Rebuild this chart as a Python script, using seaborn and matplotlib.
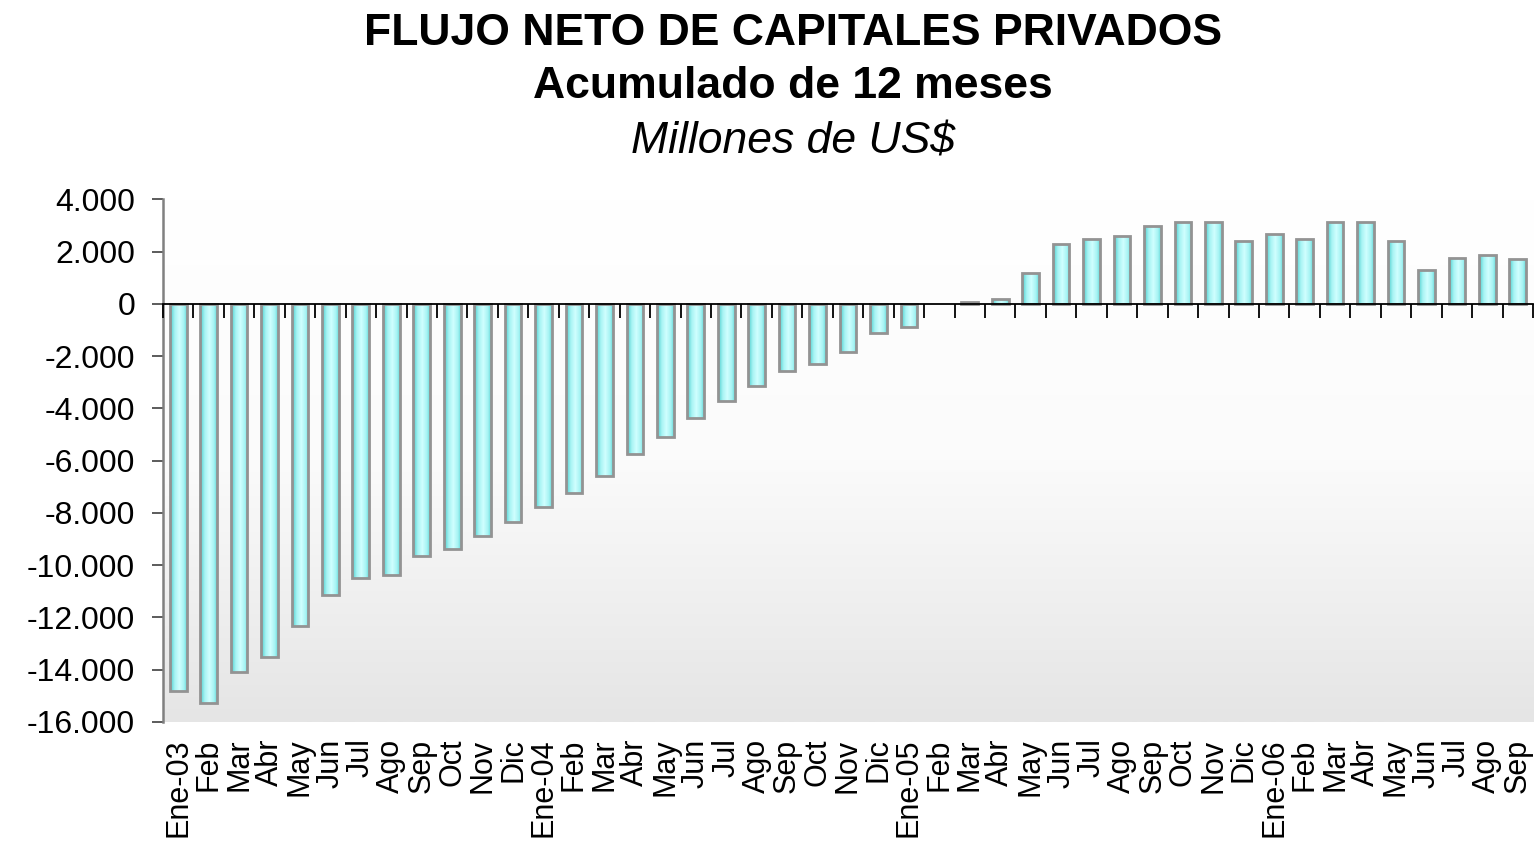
import numpy as np
import pandas as pd
import matplotlib
matplotlib.use("Agg")
import matplotlib.pyplot as plt
import seaborn as sns
from matplotlib.colors import LinearSegmentedColormap
from matplotlib.ticker import FuncFormatter

# data (millones de US$, acumulado 12 meses)
tick_labels = ["Ene-03", "Feb", "Mar", "Abr", "May", "Jun", "Jul", "Ago", "Sep", "Oct", "Nov", "Dic",
               "Ene-04", "Feb", "Mar", "Abr", "May", "Jun", "Jul", "Ago", "Sep", "Oct", "Nov", "Dic",
               "Ene-05", "Feb", "Mar", "Abr", "May", "Jun", "Jul", "Ago", "Sep", "Oct", "Nov", "Dic",
               "Ene-06", "Feb", "Mar", "Abr", "May", "Jun", "Jul", "Ago", "Sep"]
flujo = [-14830, -15300, -14110, -13540, -12350, -11150, -10490, -10390, -9650, -9380, -8890, -8340,
         -7780, -7230, -6580, -5750, -5090, -4350, -3700, -3140, -2570, -2290, -1840, -1100,
         -895, 0, 60, 180, 1200, 2310, 2500, 2600, 2980, 3150, 3150, 2400,
         2690, 2500, 3150, 3150, 2400, 1280, 1750, 1870, 1720]
y_ticks = [4000, 2000, 0, -2000, -4000, -6000, -8000, -10000, -12000, -14000, -16000]

# unique keys so the repeated month names stay separate categories
keys = [f"{i:02d}" for i in range(len(tick_labels))]
df = pd.DataFrame({"mes": keys, "valor": flujo})

sns.set_style("white")
plt.rcParams['font.family'] = ['Liberation Sans', 'DejaVu Sans']
plt.rcParams['text.color'] = 'black'
plt.rcParams['xtick.color'] = 'black'
plt.rcParams['ytick.color'] = 'black'

fig = plt.figure(figsize=(15.39, 8.47), dpi=100)
ax = fig.add_axes([0.1059, 0.1479, 0.8902, 0.6166])

sns.barplot(data=df, x="mes", y="valor", order=keys, color="#9eeeee", width=0.55,
            edgecolor="#939393", linewidth=2.0, errorbar=None, ax=ax, zorder=2)

ymin, ymax = -16000, 4000
xmin, xmax = -0.5, len(keys) - 0.5

# background gradient of the plot area: white at top, light grey at bottom
bg = np.linspace(0, 1, 256).reshape(-1, 1)
bg_cmap = LinearSegmentedColormap.from_list("bg", ["#ffffff", "#fbfbfb", "#e5e5e5"])
ax.imshow(bg, cmap=bg_cmap, extent=[xmin, xmax, ymin, ymax], aspect="auto", zorder=0, origin="upper")

# horizontal cyan gradient inside each bar
t = np.linspace(0, 1, 64)
bar_grad = np.abs(t - 0.55).reshape(1, -1)
bar_cmap = LinearSegmentedColormap.from_list("bar", ["#d0ffff", "#a6f3f3", "#48cccc"])
for p in ax.patches:
    x0, w = p.get_x(), p.get_width()
    y0, h = p.get_y(), p.get_height()
    if h == 0:
        p.set_visible(False)
        continue
    im = ax.imshow(bar_grad, cmap=bar_cmap, vmin=0, vmax=0.55, aspect="auto",
                   extent=[x0, x0 + w, y0, y0 + h], zorder=1.9)
    im.set_clip_path(p)
    p.set_facecolor("none")

ax.set_xlim(xmin, xmax)
ax.set_ylim(ymin, ymax)

# y axis
ax.set_yticks(y_ticks)
ax.yaxis.set_major_formatter(FuncFormatter(lambda v, pos: f"{v:,.0f}".replace(",", ".")))
ax.tick_params(axis="y", left=True, length=8, width=1.2, color="#404040", direction="out",
               labelsize=23, pad=12, labelcolor="black")

# x labels at the bottom
ax.set_xticks(range(len(keys)))
ax.set_xticklabels(tick_labels, rotation=90, fontsize=22)
ax.tick_params(axis="x", bottom=False, length=0, pad=12, labelcolor="black")
ax.set_xlabel("")
ax.set_ylabel("")

for s in ["top", "right", "bottom"]:
    ax.spines[s].set_visible(False)
ax.spines["left"].set_color("#808080")
ax.spines["left"].set_linewidth(1.8)

# zero line with category boundary ticks
sec = ax.secondary_xaxis(0, transform=ax.transData)
sec.set_xticks(np.arange(xmin, xmax + 1, 1))
sec.tick_params(axis="x", length=10, width=1.3, color="black", direction="out", labelbottom=False)
sec.spines["bottom"].set_color("black")
sec.spines["bottom"].set_linewidth(1.3)
sec.set_zorder(5)

fig.text(0.515, 0.947, "FLUJO NETO DE CAPITALES PRIVADOS", ha="center", va="baseline",
         fontsize=32, fontweight="bold")
fig.text(0.515, 0.884, "Acumulado de 12 meses", ha="center", va="baseline",
         fontsize=32, fontweight="bold")
fig.text(0.515, 0.819, "Millones de US$", ha="center", va="baseline",
         fontsize=32, fontstyle="italic")

fig.savefig("out.png", dpi=100)
